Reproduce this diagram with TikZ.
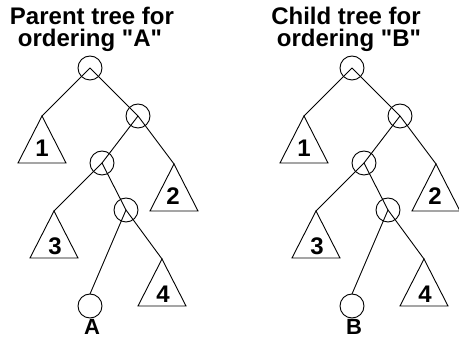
\documentclass[tikz,border=0pt]{standalone}
\usepackage{fontspec}
\setmainfont{Liberation Sans}[Ligatures=TeXOff]
\begin{document}
\begin{tikzpicture}[x=1pt,y=-1pt,
  cnode/.style={draw,circle,line width=0.9pt,minimum size=24pt,inner sep=0pt,outer sep=0pt},
  edge/.style={line width=0.9pt},
  tri/.style={line width=0.9pt},
  lbl/.style={font=\fontsize{24}{25}\selectfont\bfseries,inner sep=0pt},
  ttl/.style={font=\fontsize{24}{25}\selectfont\bfseries,inner sep=0pt,anchor=base},
  leaflbl/.style={font=\fontsize{22}{23}\selectfont\bfseries,inner sep=0pt,anchor=base}]
\useasboundingbox (0,0) rectangle (459,339);
\newcommand{\treefig}[4]{%
\begin{scope}[shift={(#2,0)}]
  \node[cnode] (#1r) at (90,68) {};
  \node[cnode] (#1c2) at (138,116) {};
  \node[cnode] (#1c3) at (102,163) {};
  \node[cnode] (#1c4) at (126,210) {};
  \node[cnode] (#1cl) at (90,306) {};
  \coordinate (#1t1) at (42,116);
  \coordinate (#1t2) at (174,164);
  \coordinate (#1t3) at (54,211);
  \coordinate (#1t4) at (162,259);
  \foreach \t in {t1,t2,t3,t4}{
    \draw[tri] (#1\t) -- ++(-24,47) -- ++(48,0) -- cycle;
  }
  \node[lbl] (#1n1) at (42,148) {1};
  \node[lbl] (#1n2) at (173,196) {2};
  \node[lbl] (#1n3) at (55,246) {3};
  \node[lbl] (#1n4) at (163,294) {4};
  \draw[edge] (#1r.center) -- (#1t1);
  \draw[edge] (#1r.center) -- (#1c2.center);
  \draw[edge] (#1c2.center) -- (#1c3.center);
  \draw[edge] (#1c2.center) -- (#1t2);
  \draw[edge] (#1c3.center) -- (#1t3);
  \draw[edge] (#1c3.center) -- (#1c4.center);
  \draw[edge] (#1c4.center) -- (#1cl.north);
  \draw[edge] (#1c4.center) -- (#1t4);
  \node[leaflbl] (#1lab) at (#4,335) {#3};
\end{scope}}
\treefig{L}{0}{A}{92}
\treefig{R}{262}{B}{92}
\node[ttl] (tl1) at (92,25) {Parent tree for};
\node[ttl] (tl2) at (90,47) {ordering "A"};
\node[ttl] (tr1) at (346,25) {Child tree for};
\node[ttl] (tr2) at (349,47) {ordering "B"};
\end{tikzpicture}
\end{document}
